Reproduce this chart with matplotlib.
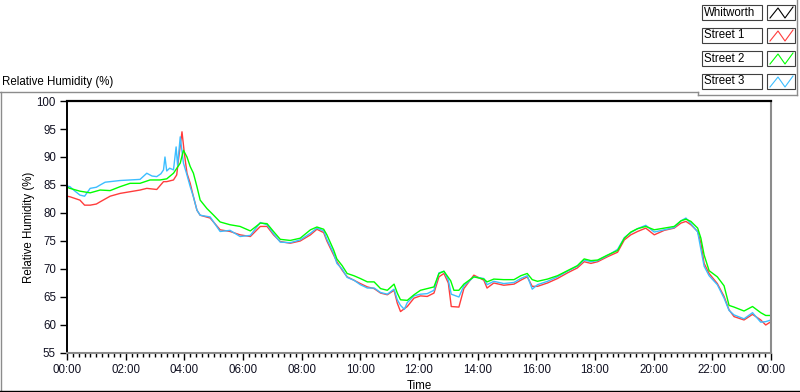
import matplotlib.pyplot as plt
from matplotlib.lines import Line2D
from matplotlib.patches import Rectangle

plt.rcParams['font.family'] = ['Liberation Sans', 'DejaVu Sans']

# time in hours, relative humidity in %
street1_t = [0.0, 0.1, 0.44, 0.6, 0.79, 1.0, 1.13, 1.47, 1.81, 2.15, 2.49, 2.72, 3.06, 3.29, 3.4,
             3.63, 3.74, 3.8, 3.92, 4.0, 4.09, 4.2, 4.31, 4.43, 4.54, 4.88, 5.22, 5.56, 5.9, 6.25,
             6.59, 6.82, 7.04, 7.27, 7.61, 7.95, 8.3, 8.52, 8.75, 8.86, 9.09, 9.2, 9.38, 9.55, 9.78,
             10.0, 10.24, 10.47, 10.69, 10.92, 11.15, 11.26, 11.37, 11.6, 11.83, 12.05, 12.28, 12.51,
             12.68, 12.85, 13.0, 13.1, 13.36, 13.53, 13.87, 14.21, 14.32, 14.55, 14.89, 15.24, 15.47,
             15.69, 15.86, 16.04, 16.38, 16.72, 17.06, 17.4, 17.63, 17.86, 18.09, 18.43, 18.77, 19.0,
             19.22, 19.45, 19.73, 20.02, 20.36, 20.7, 20.93, 21.1, 21.27, 21.5, 21.61, 21.72, 21.89,
             22.17, 22.4, 22.57, 22.74, 23.08, 23.37, 23.65, 23.82, 24.0]
street1 = [83.0, 82.9, 82.3, 81.4, 81.4, 81.6, 82.0, 83.0, 83.5, 83.8, 84.1, 84.4, 84.2, 85.6, 85.6,
           85.9, 86.8, 89.5, 94.5, 90.7, 87.1, 85.3, 82.9, 80.5, 79.6, 79.1, 77.0, 76.7, 76.1, 75.8,
           77.6, 77.6, 76.1, 74.9, 74.6, 75.0, 76.1, 77.1, 76.5, 75.0, 72.5, 71.3, 69.8, 68.6, 68.0,
           67.4, 66.8, 66.5, 65.7, 65.4, 66.2, 63.9, 62.4, 63.3, 64.8, 65.2, 65.1, 65.7,
           68.6, 69.2, 67.5, 63.3, 63.2, 66.5, 68.9, 68.0, 66.6, 67.5, 67.1, 67.3, 68.0,
           68.6, 66.9, 66.9, 67.5, 68.3, 69.3, 70.2, 71.3, 71.0, 71.3, 72.2, 73.0, 75.2,
           76.1, 76.7, 77.3, 76.1, 76.9, 77.3, 78.2, 78.5, 77.9, 76.7, 74.6, 71.0, 69.2,
           67.4, 65.1, 62.7, 61.5, 60.9, 61.9, 60.9, 60.0, 60.6]

street2_t = [0.0, 0.1, 0.44, 0.79, 1.13, 1.47, 1.81, 2.15, 2.49, 2.83, 3.17, 3.4, 3.63, 3.86, 3.97,
             4.09, 4.2, 4.31, 4.43, 4.54, 4.77, 5.0, 5.22, 5.56, 5.9, 6.25, 6.59, 6.82, 7.04, 7.27,
             7.61, 7.95, 8.3, 8.52, 8.75, 8.86, 9.09, 9.2, 9.38, 9.55, 9.78, 10.0, 10.24, 10.47,
             10.69, 10.92, 11.15, 11.26, 11.37, 11.6, 11.83, 12.05, 12.28, 12.51, 12.68, 12.85,
             13.08, 13.19, 13.36, 13.53, 13.87, 14.21, 14.32, 14.55, 14.89, 15.24, 15.47, 15.69,
             15.86, 16.04, 16.38, 16.72, 17.06, 17.4, 17.63, 17.86, 18.09, 18.43, 18.77, 19.0,
             19.22, 19.45, 19.73, 20.02, 20.36, 20.7, 20.93, 21.1, 21.27, 21.5, 21.61, 21.72,
             21.89, 22.17, 22.4, 22.57, 22.74, 23.08, 23.37, 23.65, 23.82, 24.0]
street2 = [84.6, 84.4, 83.9, 83.6, 84.1, 84.0, 84.7, 85.3, 85.3, 85.9, 85.9, 86.1, 87.1, 88.9, 91.2,
           90.0, 88.3, 87.1, 84.7, 82.3, 80.8, 79.6, 78.4, 77.9, 77.6, 76.8, 78.2, 78.1, 76.7, 75.3,
           75.1, 75.5, 77.0, 77.5, 77.1, 76.1, 73.4, 71.8, 70.6, 69.2, 68.8, 68.3, 67.7, 67.7,
           66.5, 66.2, 67.3, 65.7, 64.5, 64.4, 65.4, 66.2, 66.5, 66.8, 69.2, 69.6,
           67.9, 66.2, 66.2, 67.3, 68.6, 68.2, 67.7, 68.2, 68.1, 68.1, 68.8, 69.2,
           68.1, 67.8, 68.2, 68.8, 69.7, 70.6, 71.8, 71.5, 71.6, 72.5, 73.3, 75.5,
           76.6, 77.2, 77.6, 77.0, 77.3, 77.6, 78.6, 78.9, 78.5, 77.3, 75.5, 72.5,
           69.7, 68.6, 67.0, 63.5, 63.2, 62.5, 63.3, 62.2, 61.7, 61.7]

street3_t = [0.0, 0.1, 0.25, 0.44, 0.6, 0.79, 1.0, 1.13, 1.3, 1.47, 1.81, 2.15, 2.49, 2.72, 2.9,
             3.06, 3.2, 3.29, 3.34, 3.4, 3.5, 3.63, 3.72, 3.77, 3.86, 3.97, 4.09, 4.2, 4.31, 4.43,
             4.54, 4.88, 5.22, 5.56, 5.9, 6.25, 6.59, 6.82, 7.04, 7.27, 7.61, 7.95, 8.3, 8.52, 8.75,
             8.86, 9.09, 9.2, 9.38, 9.55, 9.78, 10.0, 10.24, 10.47, 10.69, 10.92, 11.15, 11.26,
             11.37, 11.5, 11.6, 11.83, 12.05, 12.28, 12.51, 12.68, 12.85, 13.0, 13.1, 13.36, 13.53,
             13.87, 14.21, 14.32, 14.55, 14.89, 15.24, 15.47, 15.69, 15.86, 16.04, 16.38, 16.72,
             17.06, 17.4, 17.63, 17.86, 18.09, 18.43, 18.77, 19.0, 19.22, 19.45, 19.73, 20.02,
             20.36, 20.7, 20.93, 21.1, 21.27, 21.5, 21.61, 21.72, 21.89, 22.17, 22.4, 22.57, 22.74,
             23.08, 23.37, 23.65, 23.82, 24.0]
street3 = [84.8, 84.7, 84.0, 83.2, 83.0, 84.4, 84.6, 85.0, 85.5, 85.6, 85.8, 85.9, 86.0, 87.1, 86.6,
           86.5, 87.0, 87.7, 90.0, 87.5, 88.0, 87.7, 91.8, 88.5, 93.6, 88.9, 86.8, 84.7, 82.9, 80.5,
           79.6, 79.3, 76.7, 76.9, 75.8, 76.0, 78.3, 77.9, 76.3, 74.8, 74.7, 75.2, 76.4, 77.3, 76.8,
           75.3, 72.8, 71.0, 70.0, 68.5, 68.0, 67.2, 66.6, 66.6, 65.8, 65.5, 66.4, 64.5,
           63.5, 62.8, 64.0, 65.2, 65.5, 65.6, 66.2, 69.3, 69.6, 68.0, 65.5, 65.0, 67.0,
           68.6, 68.3, 67.2, 67.8, 67.4, 67.6, 68.3, 68.8, 66.4, 67.2, 67.8, 68.6,
           69.6, 70.5, 71.6, 71.3, 71.5, 72.4, 73.5, 75.6, 76.5, 77.2, 77.8, 76.6,
           77.0, 77.4, 78.6, 79.1, 78.1, 76.6, 73.5, 70.5, 68.8, 67.2, 64.8, 62.6, 61.8,
           61.1, 62.2, 60.5, 60.6, 60.9]

series_names = ['Whitworth', 'Street 1', 'Street 2', 'Street 3']
series_colors = ['#000000', '#ff3c3c', '#00ff00', '#3cbeff']
x_ticks = list(range(0, 25, 2))
x_labels = ['%02d:00' % (h % 24) for h in x_ticks]
y_ticks = list(range(55, 101, 5))

W, H = 800, 392
fig = plt.figure(figsize=(W / 100, H / 100), dpi=100)


def fx(px):
    return px / W


def fy(py):
    return 1 - py / H


ax = fig.add_axes([fx(67), fy(353), fx(771) - fx(67), fy(101) - fy(353)])

ax.plot(street1_t, street1, color=series_colors[1], lw=1.0)
ax.plot(street3_t, street3, color=series_colors[3], lw=1.0)
ax.plot(street2_t, street2, color=series_colors[2], lw=1.0)

ax.set_xlim(0, 24)
ax.set_ylim(55, 100)
ax.set_xticks(x_ticks)
ax.set_xticklabels(x_labels)
ax.set_xticks([h / 5 for h in range(0, 121)], minor=True)
ax.set_yticks(y_ticks)
ax.tick_params(axis='both', which='major', direction='out', length=5, width=1,
               labelsize=8.3, color='black', labelcolor='#111122', pad=3)
ax.tick_params(axis='x', which='minor', direction='out', length=3, width=1, color='black')

ax.spines['top'].set_color('black')
ax.spines['top'].set_linewidth(1.6)
ax.spines['left'].set_color('black')
ax.spines['left'].set_linewidth(1.4)
ax.spines['bottom'].set_color('#8c8c8c')
ax.spines['bottom'].set_linewidth(1.5)
ax.spines['right'].set_color('#8c8c8c')
ax.spines['right'].set_linewidth(1.5)

ax.set_xlabel('Time', fontsize=8.3, labelpad=3)
ax.set_ylabel('Relative Humidity (%)', fontsize=8.3, labelpad=1)

# panel decorations
fig.text(fx(2), fy(82), 'Relative Humidity (%)', fontsize=8.3, va='center', ha='left')
frame = [((0, 92), (698, 92), '#8c8c8c'), ((698, 92), (698, 95), '#8c8c8c'),
         ((698, 95), (797, 95), '#8c8c8c'), ((797, 0), (797, 95), '#8c8c8c'),
         ((1, 92), (1, 391), '#8c8c8c'), ((0, 391), (800, 391), 'black')]
for (x0, y0), (x1, y1), c in frame:
    fig.add_artist(Line2D([fx(x0), fx(x1)], [fy(y0), fy(y1)], color=c, lw=1))

# legend boxes
for i, (name, col) in enumerate(zip(series_names, series_colors)):
    top = 5 + i * 23
    bot = top + 15
    fig.add_artist(Rectangle((fx(702), fy(bot)), fx(762) - fx(702), fy(top) - fy(bot),
                             facecolor='white', edgecolor='#404040', lw=0.8))
    fig.text(fx(704), fy((top + bot) / 2), name, fontsize=8.3, va='center', ha='left')
    fig.add_artist(Rectangle((fx(767), fy(bot)), fx(795) - fx(767), fy(top) - fy(bot),
                             facecolor='white', edgecolor='#404040', lw=0.8))
    zx = [770, 778, 785, 793]
    zy = [bot - 2, top + 3, bot - 2, top + 2]
    fig.add_artist(Line2D([fx(v) for v in zx], [fy(v) for v in zy], color=col, lw=0.8))

fig.savefig('out.png', dpi=100)
